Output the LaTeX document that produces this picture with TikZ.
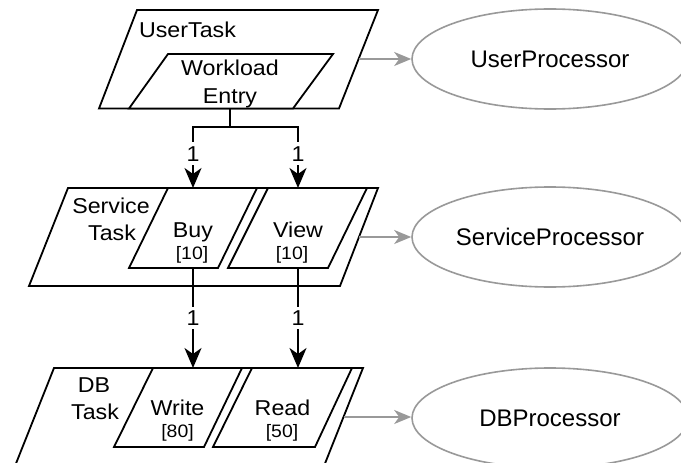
\documentclass[tikz,border=0pt]{standalone}
\usepackage{fontspec}
\setmainfont{Liberation Sans}
\newfontfamily\taskfont{Liberation Sans}[FakeStretch=1.08]
\usetikzlibrary{arrows.meta,shapes.geometric}
\definecolor{procgray}{HTML}{999999}

\begin{document}
\begin{tikzpicture}[x=1pt,y=-1pt,
  box/.style={draw=black, line width=1.8pt, line join=miter, fill=white},
  tasklabel/.style={anchor=base, inner sep=0pt, font=\taskfont\fontsize{21.5}{24}\selectfont},
  countlabel/.style={anchor=base, inner sep=0pt, font=\taskfont\fontsize{18}{20}\selectfont},
  proc/.style={ellipse, draw=procgray, line width=1.6pt, inner sep=0pt,
    minimum width=276pt, minimum height=100pt, font=\fontsize{24}{28}\selectfont},
  link/.style={draw=black, line width=2pt},
  flow/.style={link, -{Stealth[length=20pt,width=17pt,inset=6pt]}},
  bind/.style={draw=procgray, line width=1.8pt, -{Stealth[length=17pt,width=14pt,inset=5pt]}},
  mult/.style={fill=white, inner xsep=2pt, inner ysep=4pt, font=\taskfont\fontsize{21.5}{24}\selectfont}
]
\clip (0,0) rectangle (681,463);
\fill[white] (0,0) rectangle (681,463);

% ---- user layer ----
\draw[box] (137,10) -- (378,10) -- (339,108.5) -- (99,108.5) -- cycle;
\draw[box] (168,54) -- (333,54) -- (293,108.5) -- (129,108.5) -- cycle;
\node[tasklabel] (usertask) at (187.5,37) {UserTask};
\node[tasklabel] (workload) at (230,75) {Workload};
\node[tasklabel] (entry) at (230,103) {Entry};

% ---- service layer ----
\draw[box] (68,188) -- (378,188) -- (340,286) -- (29,286) -- cycle;
\draw[box] (168,188) -- (257,188) -- (218,268) -- (129,268) -- cycle;
\draw[box] (268,188) -- (367,188) -- (328,268) -- (228,268) -- cycle;
\node[tasklabel] (service) at (111,213) {Service};
\node[tasklabel] (servicetask) at (112,240.5) {Task};
\node[tasklabel] (buy) at (193,237) {Buy};
\node[countlabel] (buyn) at (192,259) {[10]};
\node[tasklabel] (view) at (298,237) {View};
\node[countlabel] (viewn) at (292,259) {[10]};

% ---- database layer ----
\draw[box] (54,368) -- (363,368) -- (324,466) -- (15,466) -- cycle;
\draw[box] (153,368) -- (242,368) -- (204,447) -- (114,447) -- cycle;
\draw[box] (252,368) -- (352,368) -- (315,447) -- (213,447) -- cycle;
\node[tasklabel] (db) at (94,392) {DB};
\node[tasklabel] (dbtask) at (95,419) {Task};
\node[tasklabel] (write) at (177.5,415) {Write};
\node[countlabel] (writen) at (177.5,437.5) {[80]};
\node[tasklabel] (read) at (282.5,415) {Read};
\node[countlabel] (readn) at (282,437.5) {[50]};

% ---- processors ----
\node[proc] (userproc) at (550,59) {UserProcessor};
\node[proc] (serviceproc) at (550,237) {ServiceProcessor};
\node[proc] (dbproc) at (550,418) {DBProcessor};

% ---- attachment points on the boxes ----
\coordinate (entryb) at (230,108.5);
\coordinate (fork) at (230,127);
\coordinate (forkl) at (193,127);
\coordinate (forkr) at (298,127);
\coordinate (buyt) at (193,188);
\coordinate (viewt) at (298,188);
\coordinate (buyb) at (193,268);
\coordinate (viewb) at (298,268);
\coordinate (writet) at (193,368);
\coordinate (readt) at (298,368);
\coordinate (userr) at (359,59);
\coordinate (servr) at (359,237);
\coordinate (dbr) at (344,417);

% ---- task flow ----
\draw[link] (entryb) -- (fork);
\draw[link, line cap=rect] (forkl) -- (forkr);
\draw[flow] (forkl) -- node[mult, pos=0.44] {1} (buyt);
\draw[flow] (forkr) -- node[mult, pos=0.44] {1} (viewt);
\draw[flow] (buyb) -- node[mult, pos=0.5] {1} (writet);
\draw[flow] (viewb) -- node[mult, pos=0.5] {1} (readt);

% ---- processor bindings ----
\draw[bind] (userr) -- (userproc.west |- userr);
\draw[bind] (servr) -- (serviceproc.west |- servr);
\draw[bind] (dbr) -- (dbproc.west |- dbr);
\end{tikzpicture}
\end{document}
